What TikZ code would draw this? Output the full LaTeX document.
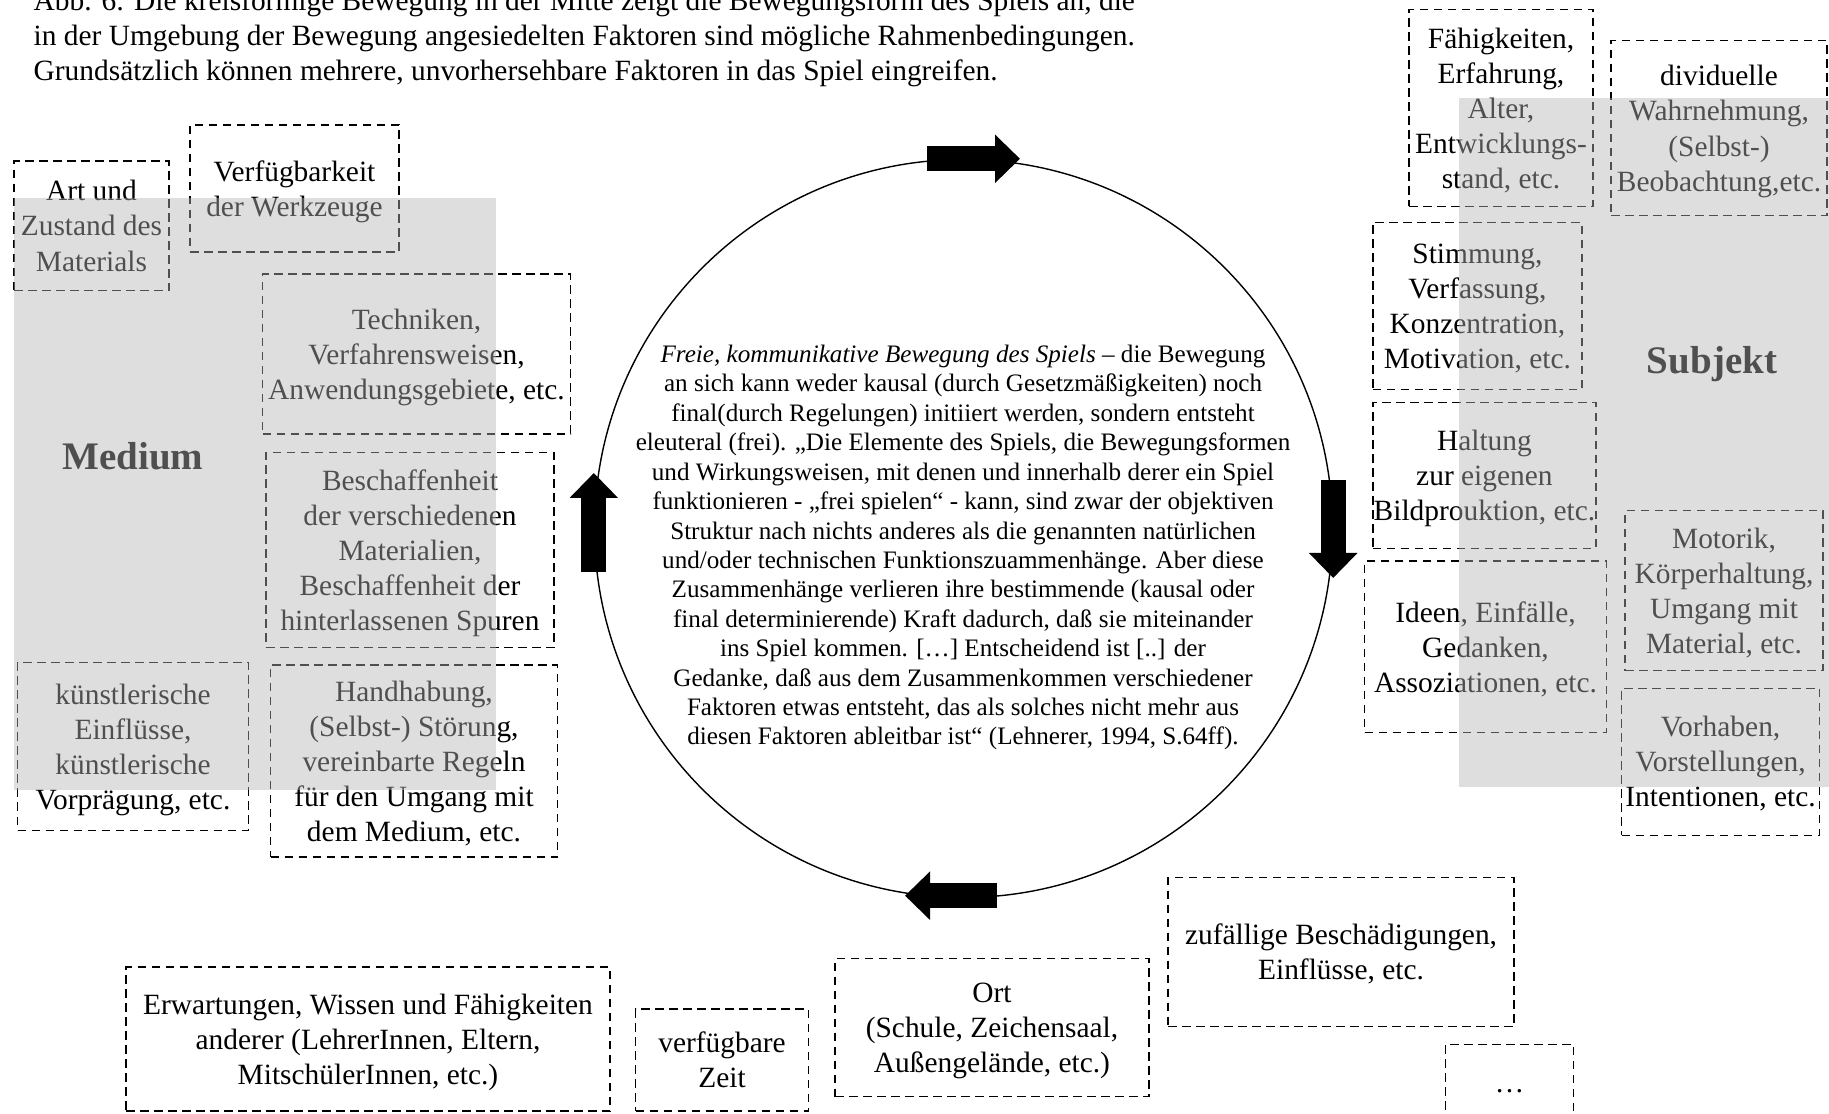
\documentclass[tikz,border=0pt]{standalone}
\usepackage{fontspec}
\setmainfont{Liberation Serif}
\usetikzlibrary{positioning,calc,arrows.meta}

\newcommand{\kastenfont}{\fontsize{8.37pt}{9.96pt}\selectfont}
\newcommand{\zitatfont}{\fontsize{7.15pt}{8.37pt}\selectfont}
\newcommand{\titelfont}{\fontsize{11.1pt}{13pt}\selectfont\bfseries}

\begin{document}
\begin{tikzpicture}[x=0.1mm, y=-0.1mm,
  faktor/.style={draw, line width=0.37pt, dash pattern=on 0.85mm off 0.55mm,
    align=center, inner sep=0pt, text depth=0pt, font=\kastenfont},
  bereich/.style={fill=black!29, fill opacity=0.44},
  pfeil/.style={line width=2.5mm, -{Triangle[length=2.5mm, width=4.7mm]}}]

\useasboundingbox (0,0) rectangle (1829,1114);

% Bildunterschrift
\foreach \t [count=\i] in {{Abb. 6: Die kreisförmige Bewegung in der Mitte zeigt die Bewegungsform des Spiels an, die},
  {in der Umgebung der Bewegung angesiedelten Faktoren sind mögliche Rahmenbedingungen.},
  {Grundsätzlich können mehrere, unvorhersehbare Faktoren in das Spiel eingreifen.}}
  \node [anchor=base west, inner sep=0pt, font=\kastenfont] (kopf-\i) at (33,10.5+35*\i-35) {\t};

% Faktoren Medium
\node [faktor, minimum width=15.5mm, minimum height=12.95mm] (art) at (91.5,225.8)
  {Art und\\Zustand des\\Materials};
\node [faktor, minimum width=20.9mm, minimum height=12.7mm] (werkzeug) at (294.5,188.5)
  {Verfügbarkeit\\der Werkzeuge};
\node [faktor, minimum width=30.8mm, minimum height=16mm] (technik) at (416.5,354)
  {Techniken,\\Verfahrensweisen,\\Anwendungsgebiete, etc.};
\node [faktor, minimum width=28.8mm, minimum height=19.5mm] (beschaffen) at (410,550)
  {Beschaffenheit\\der verschiedenen\\Materialien,\\Beschaffenheit der\\hinterlassenen Spuren};
\node [faktor, minimum width=23.1mm, minimum height=16.8mm] (einfluss) at (133,746.5)
  {künstlerische\\Einflüsse,\\künstlerische\\Vorprägung, etc.};
\node [faktor, minimum width=28.7mm, minimum height=19.2mm] (handhabung) at (414,761)
  {Handhabung,\\(Selbst-) Störung,\\vereinbarte Regeln\\für den Umgang mit\\dem Medium, etc.};

% Faktoren Subjekt
\node [faktor, minimum width=18.4mm, minimum height=19.7mm] (faehig) at (1501,108)
  {Fähigkeiten,\\Erfahrung,\\Alter,\\Entwicklungs-\\stand, etc.};
\node [faktor, minimum width=21.6mm, minimum height=17.5mm] (wahrnehmung) at (1719,128.3)
  {dividuelle\\Wahrnehmung,\\(Selbst-)\\Beobachtung,etc.};
\node [faktor, minimum width=20.9mm, minimum height=16.7mm] (stimmung) at (1477.4,306)
  {Stimmung,\\Verfassung,\\Konzentration,\\Motivation, etc.};
\node [faktor, minimum width=22.3mm, minimum height=14.6mm] (haltung) at (1484.4,475.3)
  {Haltung\\zur eigenen\\Bildprouktion, etc.};
\node [faktor, minimum width=24.15mm, minimum height=17.15mm] (ideen) at (1485.5,646.8)
  {Ideen, Einfälle,\\Gedanken,\\Assoziationen, etc.};
\node [faktor, minimum width=19.8mm, minimum height=16mm] (motorik) at (1724,590.8)
  {Motorik,\\Körperhaltung,\\Umgang mit\\Material, etc.};
\node [faktor, minimum width=19.8mm, minimum height=14.7mm] (vorhaben) at (1720.5,761.7)
  {Vorhaben,\\Vorstellungen,\\Intentionen, etc.};

% Faktoren Umgebung
\node [faktor, minimum width=34.6mm, minimum height=14.9mm] (zufall) at (1341,952)
  {zufällige Beschädigungen,\\Einflüsse, etc.};
\node [faktor, minimum width=48.4mm, minimum height=14.4mm] (erwartung) at (368,1039)
  {Erwartungen, Wissen und Fähigkeiten\\anderer (LehrerInnen, Eltern,\\MitschülerInnen, etc.)};
\node [faktor, minimum width=17.3mm, minimum height=10.2mm] (zeit) at (722,1060)
  {verfügbare\\Zeit};
\node [faktor, minimum width=31.4mm, minimum height=13.8mm] (ort) at (992,1027.7)
  {Ort\\(Schule, Zeichensaal,\\Außengelände, etc.)};
\node [faktor, minimum width=12.8mm, minimum height=9.3mm] (mehr) at (1509.5,1090.7)
  {…};

% Bereiche
\node [font=\titelfont] (medium) at (133,456) {Medium};
\node [font=\titelfont] (subjekt) at (1712,364) {Subjekt};
\fill [bereich] (14,198) rectangle (496,790);
\fill [bereich] (1459,98) rectangle (1829,787);

% Kreisbewegung
\node [draw, circle, line width=0.4pt, minimum size=73.8mm, inner sep=0pt] (spiel) at (963.5,528.5) {};
\node [align=center, font=\zitatfont, inner sep=0pt, text depth=0pt] (zitat) at (963,545)
  {\textit{Freie, kommunikative Bewegung des Spiels} – die Bewegung\\
   an sich kann weder kausal (durch Gesetzmäßigkeiten) noch\\
   final(durch Regelungen) initiiert werden, sondern entsteht\\
   eleuteral (frei). „Die Elemente des Spiels, die Bewegungsformen\\
   und Wirkungsweisen, mit denen und innerhalb derer ein Spiel\\
   funktionieren - „frei spielen“ - kann, sind zwar der objektiven\\
   Struktur nach nichts anderes als die genannten natürlichen\\
   und/oder technischen Funktionszuammenhänge. Aber diese\\
   Zusammenhänge verlieren ihre bestimmende (kausal oder\\
   final determinierende) Kraft dadurch, daß sie miteinander\\
   ins Spiel kommen. […] Entscheidend ist [..] der\\
   Gedanke, daß aus dem Zusammenkommen verschiedener\\
   Faktoren etwas entsteht, das als solches nicht mehr aus\\
   diesen Faktoren ableitbar ist“ (Lehnerer, 1994, S.64ff).};

\coordinate (oben-a)   at ($(spiel.north)+(-36.5,0)$);
\coordinate (oben-b)   at ($(spiel.north)+(56.5,0)$);
\coordinate (rechts-a) at ($(spiel.east)+(0,-48.5)$);
\coordinate (rechts-b) at ($(spiel.east)+(0,49.5)$);
\coordinate (unten-a)  at ($(spiel.south)+(33.5,-2.5)$);
\coordinate (unten-b)  at ($(spiel.south)+(-58.5,-2.5)$);
\coordinate (links-a)  at ($(spiel.west)+(0,43.5)$);
\coordinate (links-b)  at ($(spiel.west)+(0,-55.5)$);

\foreach \r in {oben,rechts,unten,links}
  \draw [pfeil] (\r-a) -- (\r-b);

\end{tikzpicture}
\end{document}
